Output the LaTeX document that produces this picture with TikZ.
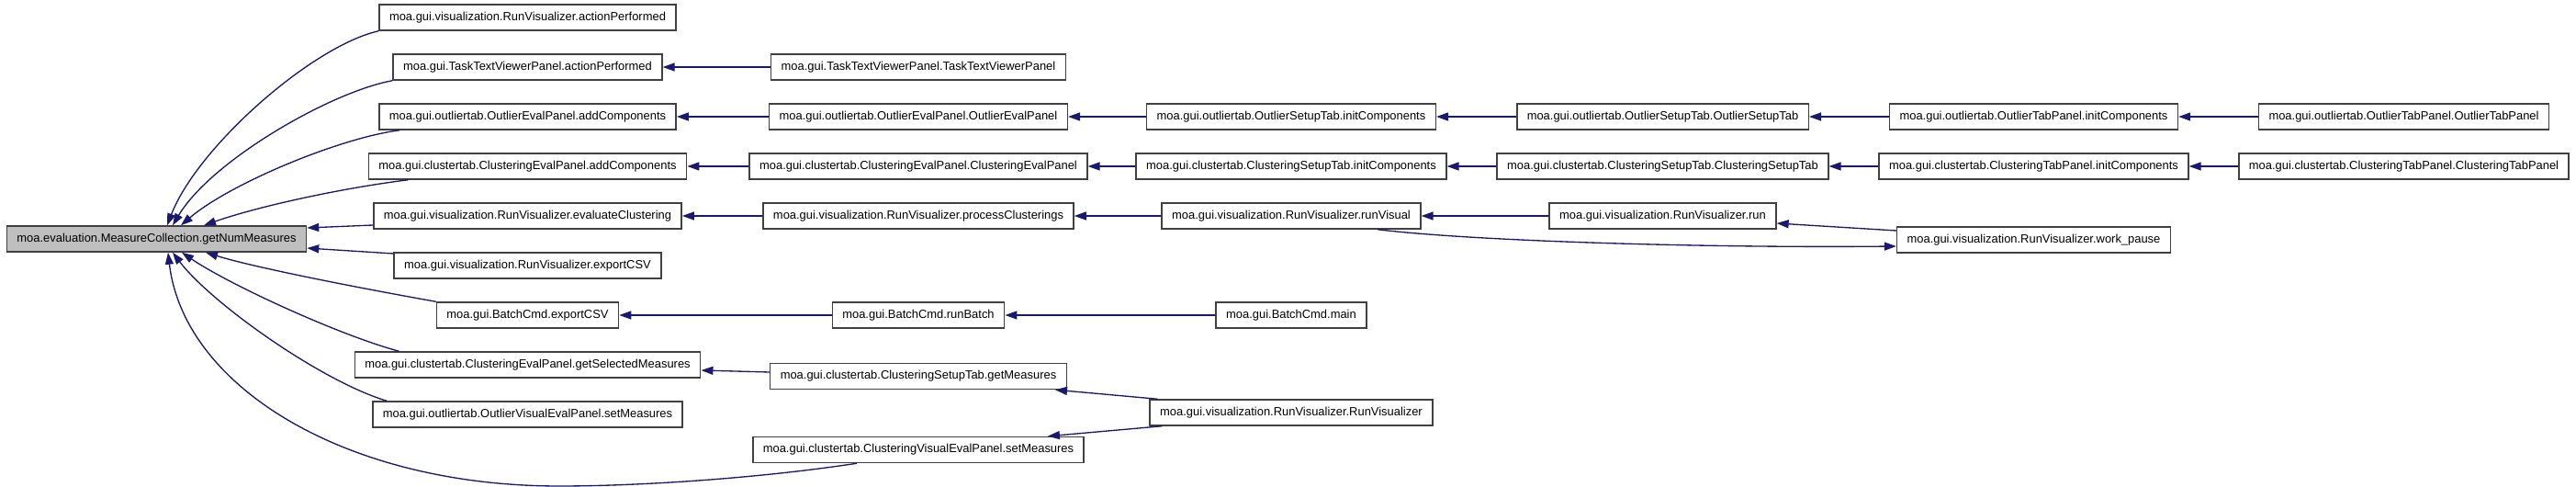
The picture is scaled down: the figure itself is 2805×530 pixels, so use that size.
\documentclass[tikz,border=0pt]{standalone}
\usepackage{fontspec}
\setmainfont{Liberation Sans}
\usetikzlibrary{arrows.meta,calc}

\definecolor{edgeblue}{HTML}{191970}
\definecolor{mainfill}{HTML}{BFBFBF}
\definecolor{boxline}{HTML}{404040}

\tikzset{every picture/.style={line width=0.75pt},
	fn/.style={draw=boxline, line width=1.1pt, fill=white, minimum height=21pt, inner xsep=8.25pt, inner ysep=0pt, font=\fontsize{9.7}{11}\selectfont},
	call/.style={draw=edgeblue, line width=1pt, -{Triangle[length=9.75pt,width=6.75pt]}}}

\begin{document}
\begin{tikzpicture}[x=0.75pt,y=0.75pt,yscale=-1,xscale=1]
		\useasboundingbox (0,0) rectangle (2805,530);
		
		% Text Node
		\draw (170.5,260) node (main) [fn, fill=mainfill] {moa.evaluation.MeasureCollection.getNumMeasures};
		% Text Node
		\draw (574.5,19) node (rvAction) [fn] {moa.gui.visualization.RunVisualizer.actionPerformed};
		% Text Node
		\draw (574.5,73) node (ttvAction) [fn] {moa.gui.TaskTextViewerPanel.actionPerformed};
		% Text Node
		\draw (574.5,127) node (oepAdd) [fn] {moa.gui.outliertab.OutlierEvalPanel.addComponents};
		% Text Node
		\draw (574.5,181) node (cepAdd) [fn] {moa.gui.clustertab.ClusteringEvalPanel.addComponents};
		% Text Node
		\draw (574.5,235) node (rvEval) [fn] {moa.gui.visualization.RunVisualizer.evaluateClustering};
		% Text Node
		\draw (574.5,289) node (rvExport) [fn] {moa.gui.visualization.RunVisualizer.exportCSV};
		% Text Node
		\draw (574.5,343) node (bcExport) [fn] {moa.gui.BatchCmd.exportCSV};
		% Text Node
		\draw (574.5,397) node (cepSel) [fn] {moa.gui.clustertab.ClusteringEvalPanel.getSelectedMeasures};
		% Text Node
		\draw (574.5,451) node (ovepSet) [fn] {moa.gui.outliertab.OutlierVisualEvalPanel.setMeasures};
		% Text Node
		\draw (1000,73) node (ttvPanel) [fn] {moa.gui.TaskTextViewerPanel.TaskTextViewerPanel};
		% Text Node
		\draw (1000,127) node (oepPanel) [fn] {moa.gui.outliertab.OutlierEvalPanel.OutlierEvalPanel};
		% Text Node
		\draw (1000,181) node (cepPanel) [fn] {moa.gui.clustertab.ClusteringEvalPanel.ClusteringEvalPanel};
		% Text Node
		\draw (1000,235) node (rvProc) [fn] {moa.gui.visualization.RunVisualizer.processClusterings};
		% Text Node
		\draw (1000,343) node (bcRun) [fn] {moa.gui.BatchCmd.runBatch};
		% Text Node
		\draw (1000,409.5) node (cstGet) [fn] {moa.gui.clustertab.ClusteringSetupTab.getMeasures};
		% Text Node
		\draw (1000,489.5) node (cvepSet) [fn] {moa.gui.clustertab.ClusteringVisualEvalPanel.setMeasures};
		% Text Node
		\draw (1406,127) node (ostInit) [fn] {moa.gui.outliertab.OutlierSetupTab.initComponents};
		% Text Node
		\draw (1406,181) node (cstInit) [fn] {moa.gui.clustertab.ClusteringSetupTab.initComponents};
		% Text Node
		\draw (1406,235) node (rvVisual) [fn] {moa.gui.visualization.RunVisualizer.runVisual};
		% Text Node
		\draw (1406,343) node (bcMain) [fn] {moa.gui.BatchCmd.main};
		% Text Node
		\draw (1406,449) node (rvCtor) [fn] {moa.gui.visualization.RunVisualizer.RunVisualizer};
		% Text Node
		\draw (1810.5,127) node (ostTab) [fn] {moa.gui.outliertab.OutlierSetupTab.OutlierSetupTab};
		% Text Node
		\draw (1810.5,181) node (cstTab) [fn] {moa.gui.clustertab.ClusteringSetupTab.ClusteringSetupTab};
		% Text Node
		\draw (1810.5,235) node (rvRun) [fn] {moa.gui.visualization.RunVisualizer.run};
		% Text Node
		\draw (2214.5,127) node (otpInit) [fn] {moa.gui.outliertab.OutlierTabPanel.initComponents};
		% Text Node
		\draw (2214.5,181) node (ctpInit) [fn] {moa.gui.clustertab.ClusteringTabPanel.initComponents};
		% Text Node
		\draw (2214.5,261) node (rvPause) [fn] {moa.gui.visualization.RunVisualizer.work\_pause};
		% Text Node
		\draw (2617.5,127) node (otpPanel) [fn] {moa.gui.outliertab.OutlierTabPanel.OutlierTabPanel};
		% Text Node
		\draw (2617.5,181) node (ctpPanel) [fn] {moa.gui.clustertab.ClusteringTabPanel.ClusteringTabPanel};
		
		%Curve Lines into the main node
		\draw [call] (rvAction.south west) .. controls (340,50) and (215,160) .. ($(main.north)+(11.5,0)$);
		\draw [call] (ttvAction.south west) .. controls (360,100) and (230,175) .. ($(main.north)+(17.5,0)$);
		\draw [call] ($(oepAdd.south west)+(23,0)$) .. controls (370,150) and (250,200) .. ($(main.north)+(26.5,0)$);
		\draw [call] ($(cepAdd.south west)+(44,0)$) .. controls (370,205) and (280,225) .. ($(main.north)+(51.5,0)$);
		%Straight Lines
		\draw [call] ($(rvEval.west)+(0,10)$) -- ($(main.east)+(0,-12)$);
		\draw [call] ($(rvExport.west)+(0,-13)$) -- ($(main.east)+(0,10)$);
		%Curve Lines
		\draw [call] (bcExport.north west) .. controls (400,315) and (280,292) .. ($(main.south)+(53.5,0)$);
		\draw [call] ($(cepSel.north west)+(49,0)$) .. controls (370,365) and (250,310) .. ($(main.south)+(27.5,0)$);
		\draw [call] ($(ovepSet.north west)+(16,0)$) .. controls (350,415) and (230,330) .. ($(main.south)+(17.5,0)$);
		\draw [call] ($(cvepSet.south)+(-67,0)$) .. controls (830,520) and (700,529) .. (609,529) .. controls (375,529) and (200,420) .. ($(main.south)+(12.5,0)$);
		
		%Straight Lines
		\draw [call] (ttvPanel.west) -- (ttvAction.east);
		%Straight Lines
		\draw [call] (oepPanel.west) -- (oepAdd.east);
		\draw [call] (ostInit.west) -- (oepPanel.east);
		\draw [call] (ostTab.west) -- (ostInit.east);
		\draw [call] (otpInit.west) -- (ostTab.east);
		\draw [call] (otpPanel.west) -- (otpInit.east);
		%Straight Lines
		\draw [call] (cepPanel.west) -- (cepAdd.east);
		\draw [call] (cstInit.west) -- (cepPanel.east);
		\draw [call] (cstTab.west) -- (cstInit.east);
		\draw [call] (ctpInit.west) -- (cstTab.east);
		\draw [call] (ctpPanel.west) -- (ctpInit.east);
		%Straight Lines
		\draw [call] (rvProc.west) -- (rvEval.east);
		\draw [call] (rvVisual.west) -- (rvProc.east);
		\draw [call] (rvRun.west) -- (rvVisual.east);
		\draw [call] ($(rvPause.west)+(0,-10)$) -- ($(rvRun.east)+(0,8)$);
		%Curve Lines
		\draw [call] ($(rvVisual.south)+(94,0)$) .. controls (1600,262) and (1850,270) .. ($(rvPause.west)+(0,7)$);
		%Straight Lines
		\draw [call] (bcRun.west) -- (bcExport.east);
		\draw [call] (bcMain.west) -- (bcRun.east);
		%Straight Lines
		\draw [call] ($(cstGet.west)+(0,-4.5)$) -- ($(cepSel.east)+(0,6)$);
		\draw [call] ($(rvCtor.north west)+(9,0)$) -- ($(cstGet.south east)+(-13,0)$);
		\draw [call] ($(rvCtor.south west)+(14,0)$) -- ($(cvepSet.north east)+(-40,0)$);
		
	\end{tikzpicture}
\end{document}
